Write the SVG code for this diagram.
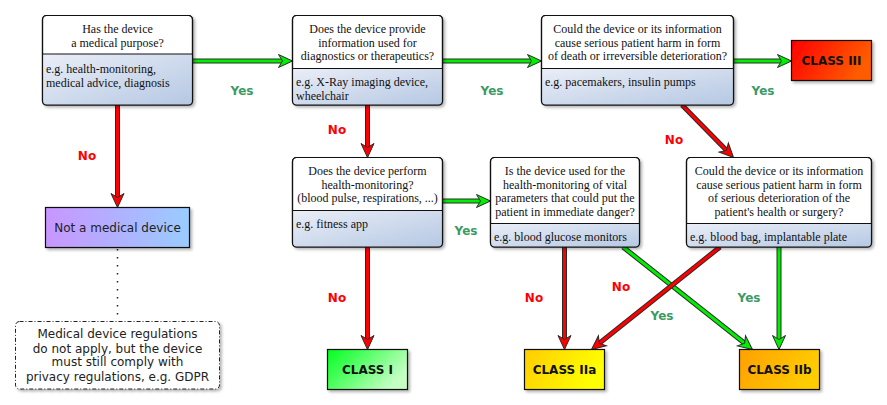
<svg xmlns="http://www.w3.org/2000/svg" width="887" height="405" viewBox="0 0 887 405">
<style>
.box{fill:#fff;stroke:#111;stroke-width:1.2}
.frame{fill:none;stroke:#111;stroke-width:1.2}
.low{fill:url(#gLow)}
.div{stroke:#111;stroke-width:1.2}
.q{font-family:"Liberation Serif","Times New Roman",serif;font-size:12px;fill:#111;text-anchor:middle}
.e{font-family:"Liberation Serif","Times New Roman",serif;font-size:12px;fill:#111}
.cls{font-family:"DejaVu Sans",sans-serif;font-size:12px;font-weight:bold;fill:#111;text-anchor:middle}
.plain{font-family:"DejaVu Sans",sans-serif;font-size:12px;fill:#222;text-anchor:middle}
.yes{font-family:"DejaVu Sans",sans-serif;font-size:12px;font-weight:bold;fill:#3c9a64;text-anchor:middle}
.no{font-family:"DejaVu Sans",sans-serif;font-size:12px;font-weight:bold;fill:#ff0000;text-anchor:middle}
.under{fill:none;stroke:#2a2a2a;stroke-width:5}
.gr{fill:none;stroke:#00ee00;stroke-width:3;marker-end:url(#mG)}
.rd{fill:none;stroke:#ff0000;stroke-width:3;marker-end:url(#mR)}
.cbox{stroke:#111;stroke-width:1.2}
</style>
<defs>
<filter id="sh" x="-10%" y="-10%" width="130%" height="130%">
<feDropShadow dx="2" dy="2" stdDeviation="1.5" flood-color="#000" flood-opacity="0.3"/>
</filter>
<linearGradient id="gLow" x1="0" y1="0" x2="1" y2="1">
<stop offset="0" stop-color="#eaeef7"/>
<stop offset="1" stop-color="#b5c8e3"/>
</linearGradient>
<linearGradient id="gIII" x1="0" y1="0" x2="1" y2="0.3"><stop offset="0" stop-color="#ff0000"/><stop offset="1" stop-color="#ff5c00"/></linearGradient>
<linearGradient id="gI" x1="0" y1="0" x2="1" y2="0.5"><stop offset="0" stop-color="#00ff1e"/><stop offset="1" stop-color="#c4ffc4"/></linearGradient>
<linearGradient id="gIIa" x1="0" y1="0" x2="1" y2="0.3"><stop offset="0" stop-color="#ffcc00"/><stop offset="1" stop-color="#ffff00"/></linearGradient>
<linearGradient id="gIIb" x1="0" y1="0" x2="1" y2="0.3"><stop offset="0" stop-color="#ffa000"/><stop offset="1" stop-color="#ffcc00"/></linearGradient>
<linearGradient id="gNot" x1="0" y1="0" x2="1" y2="0"><stop offset="0" stop-color="#c896ff"/><stop offset="1" stop-color="#99ccff"/></linearGradient>
<marker id="mG" markerUnits="userSpaceOnUse" markerWidth="20" markerHeight="20" refX="6" refY="0" orient="auto" overflow="visible">
<path d="M0,-6.5 L14,0 L0,6.5 L4,0 Z" fill="#00ee00" stroke="#2a2a2a" stroke-width="1"/>
</marker>
<marker id="mR" markerUnits="userSpaceOnUse" markerWidth="20" markerHeight="20" refX="6" refY="0" orient="auto" overflow="visible">
<path d="M0,-6.5 L14,0 L0,6.5 L4,0 Z" fill="#ff0000" stroke="#2a2a2a" stroke-width="1"/>
</marker>
</defs>
<rect width="887" height="405" fill="#fff"/>

<g id="connectors">
<path class="under" d="M193,61 H284.5"/><path class="gr" d="M193,61 H284.5"/>
<path class="under" d="M443,61 H533.5"/><path class="gr" d="M443,61 H533.5"/>
<path class="under" d="M734,61 H783.5"/><path class="gr" d="M734,61 H783.5"/>
<path class="under" d="M117.5,105 V199.5"/><path class="rd" d="M117.5,105 V199.5"/>
<path class="under" d="M367.5,105 V149.5"/><path class="rd" d="M367.5,105 V149.5"/>
<path class="under" d="M682,105 L727.9,151.8"/><path class="rd" d="M682,105 L727.9,151.8"/>
<path class="under" d="M443,201 H482.5"/><path class="gr" d="M443,201 H482.5"/>
<path class="under" d="M367.5,247 V341.5"/><path class="rd" d="M367.5,247 V341.5"/>
<path class="under" d="M564.5,247 V341.5"/><path class="rd" d="M564.5,247 V341.5"/>
<path class="under" d="M779,247 V341.5"/><path class="gr" d="M779,247 V341.5"/>
<path class="under" d="M623,247 L746.2,344.5"/><path class="gr" d="M623,247 L746.2,344.5"/>
<path class="under" d="M720,247 L597.75,344.5"/><path class="rd" d="M720,247 L597.75,344.5"/>
<path d="M117.5,249 V320" fill="none" stroke="#222" stroke-width="1.5" stroke-dasharray="1.5 6.5"/>
<text class="yes" x="242" y="95">Yes</text>
<text class="yes" x="492" y="95">Yes</text>
<text class="yes" x="763" y="95">Yes</text>
<text class="no" x="87" y="160">No</text>
<text class="no" x="337" y="134">No</text>
<text class="no" x="674" y="144">No</text>
<text class="yes" x="466" y="235">Yes</text>
<text class="no" x="337" y="302">No</text>
<text class="no" x="534" y="302">No</text>
<text class="no" x="621" y="291">No</text>
<text class="yes" x="662" y="320">Yes</text>
<text class="yes" x="749" y="302">Yes</text>
</g>

<g id="n1">
<rect class="box" x="42.5" y="15.5" width="150" height="89.5" rx="4" filter="url(#sh)"/>
<path class="low" d="M42.5,54 H192.5 V101 a4,4 0 0 1 -4,4 H46.5 a4,4 0 0 1 -4,-4 Z"/>
<line class="div" x1="42.5" y1="54" x2="192.5" y2="54"/>
<rect class="frame" x="42.5" y="15.5" width="150" height="89.5" rx="4"/>
<text class="q" x="117.5" y="32.5">Has the device</text>
<text class="q" x="117.5" y="46.5">a medical purpose?</text>
<text class="e" x="46" y="73">e.g. health-monitoring,</text>
<text class="e" x="46" y="86.5">medical advice, diagnosis</text>
</g>

<g id="n2">
<rect class="box" x="292.5" y="15.5" width="150" height="89.5" rx="4" filter="url(#sh)"/>
<path class="low" d="M292.5,68.5 H442.5 V101 a4,4 0 0 1 -4,4 H296.5 a4,4 0 0 1 -4,-4 Z"/>
<line class="div" x1="292.5" y1="68.5" x2="442.5" y2="68.5"/>
<rect class="frame" x="292.5" y="15.5" width="150" height="89.5" rx="4"/>
<text class="q" x="367.5" y="32.5">Does the device provide</text>
<text class="q" x="367.5" y="46.5">information used for</text>
<text class="q" x="367.5" y="60">diagnostics or therapeutics?</text>
<text class="e" x="296" y="86">e.g. X-Ray imaging device,</text>
<text class="e" x="296" y="99.5">wheelchair</text>
</g>

<g id="n3">
<rect class="box" x="541.5" y="15.5" width="192" height="89.5" rx="4" filter="url(#sh)"/>
<path class="low" d="M541.5,68.5 H733.5 V101 a4,4 0 0 1 -4,4 H545.5 a4,4 0 0 1 -4,-4 Z"/>
<line class="div" x1="541.5" y1="68.5" x2="733.5" y2="68.5"/>
<rect class="frame" x="541.5" y="15.5" width="192" height="89.5" rx="4"/>
<text class="q" x="637.5" y="32.5">Could the device or its information</text>
<text class="q" x="637.5" y="46.5">cause serious patient harm in form</text>
<text class="q" x="637.5" y="60">of death or irreversible deterioration?</text>
<text class="e" x="545" y="86">e.g. pacemakers, insulin pumps</text>
</g>

<g id="class3">
<rect class="cbox" x="791.5" y="40.5" width="80" height="40" fill="url(#gIII)" filter="url(#sh)"/>
<text class="cls" x="831.5" y="65">CLASS III</text>
</g>

<g id="notmed">
<rect class="cbox" x="45.5" y="207.5" width="144" height="40" fill="url(#gNot)" filter="url(#sh)"/>
<text class="plain" x="117.5" y="232">Not a medical device</text>
</g>

<g id="note">
<rect x="15.5" y="321.5" width="204" height="67.5" rx="4" fill="#fff" stroke="#222" stroke-width="1" stroke-dasharray="4 2 1 2" filter="url(#sh)"/>
<text class="plain" x="117.5" y="338">Medical device regulations</text>
<text class="plain" x="117.5" y="352.5">do not apply, but the device</text>
<text class="plain" x="117.5" y="366">must still comply with</text>
<text class="plain" x="117.5" y="380.5">privacy regulations, e.g. GDPR</text>
</g>

<g id="n4">
<rect class="box" x="292.5" y="157.5" width="150" height="89.5" rx="4" filter="url(#sh)"/>
<path class="low" d="M292.5,210.5 H442.5 V243 a4,4 0 0 1 -4,4 H296.5 a4,4 0 0 1 -4,-4 Z"/>
<line class="div" x1="292.5" y1="210.5" x2="442.5" y2="210.5"/>
<rect class="frame" x="292.5" y="157.5" width="150" height="89.5" rx="4"/>
<text class="q" x="367.5" y="175">Does the device perform</text>
<text class="q" x="367.5" y="188.5">health-monitoring?</text>
<text class="q" x="367.5" y="202">(blood pulse, respirations, ...)</text>
<text class="e" x="296" y="228">e.g. fitness app</text>
</g>

<g id="n5">
<rect class="box" x="490.5" y="157.5" width="149" height="89.5" rx="4" filter="url(#sh)"/>
<path class="low" d="M490.5,223.5 H639.5 V243 a4,4 0 0 1 -4,4 H494.5 a4,4 0 0 1 -4,-4 Z"/>
<line class="div" x1="490.5" y1="223.5" x2="639.5" y2="223.5"/>
<rect class="frame" x="490.5" y="157.5" width="149" height="89.5" rx="4"/>
<text class="q" x="565" y="175">Is the device used for the</text>
<text class="q" x="565" y="188.5">health-monitoring of vital</text>
<text class="q" x="565" y="202">parameters that could put the</text>
<text class="q" x="565" y="215.5">patient in immediate danger?</text>
<text class="e" x="494" y="241">e.g. blood glucose monitors</text>
</g>

<g id="n6">
<rect class="box" x="686.5" y="157.5" width="185" height="89.5" rx="4" filter="url(#sh)"/>
<path class="low" d="M686.5,223.5 H871.5 V243 a4,4 0 0 1 -4,4 H690.5 a4,4 0 0 1 -4,-4 Z"/>
<line class="div" x1="686.5" y1="223.5" x2="871.5" y2="223.5"/>
<rect class="frame" x="686.5" y="157.5" width="185" height="89.5" rx="4"/>
<text class="q" x="779" y="175">Could the device or its information</text>
<text class="q" x="779" y="188.5">cause serious patient harm in form</text>
<text class="q" x="779" y="202">of serious deterioration of the</text>
<text class="q" x="779" y="215.5">patient's health or surgery?</text>
<text class="e" x="690" y="241">e.g. blood bag, implantable plate</text>
</g>

<g id="class1">
<rect class="cbox" x="327.5" y="349.5" width="80" height="40" fill="url(#gI)" filter="url(#sh)"/>
<text class="cls" x="367.5" y="374">CLASS I</text>
</g>
<g id="class2a">
<rect class="cbox" x="524.5" y="349.5" width="80" height="40" fill="url(#gIIa)" filter="url(#sh)"/>
<text class="cls" x="564.5" y="374">CLASS IIa</text>
</g>
<g id="class2b">
<rect class="cbox" x="739.5" y="349.5" width="80" height="40" fill="url(#gIIb)" filter="url(#sh)"/>
<text class="cls" x="779.5" y="374">CLASS IIb</text>
</g>
</svg>
